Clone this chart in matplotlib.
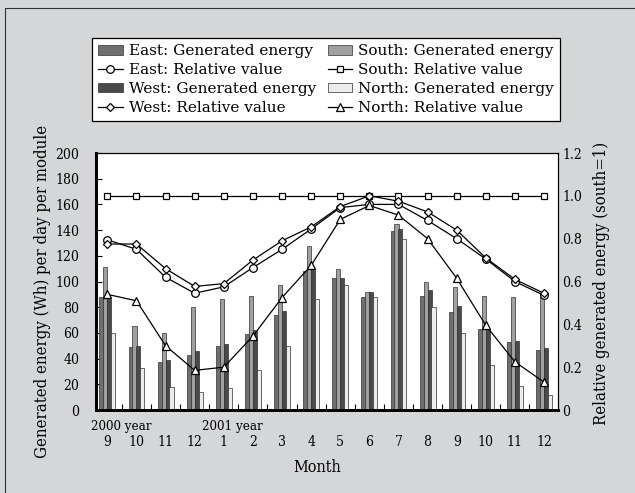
import numpy as np
import matplotlib
matplotlib.use("Agg")
import matplotlib.pyplot as plt
from matplotlib.patches import Rectangle

# months Sep 2000 .. Dec 2001
months = ["9", "10", "11", "12", "1", "2", "3", "4", "5", "6", "7", "8", "9", "10", "11", "12"]

# generated energy (Wh) per day per module
east_gen = [88, 49, 37, 43, 50, 59, 74, 108, 103, 88, 139.5, 89, 76, 63, 53, 47]
south_gen = [111, 65, 60, 80, 86, 89, 97, 127.5, 110, 92, 145, 100, 96, 89, 88, 88]
west_gen = [86, 50, 39, 46, 51, 62, 77, 109, 103, 92, 141, 93, 81, 63, 54, 48]
north_gen = [60, 33, 18, 14, 17, 31, 50, 86, 97, 88, 133, 80, 60, 35, 19, 12]

# relative value (south = 1)
east_rel = [0.795, 0.75, 0.62, 0.545, 0.575, 0.665, 0.75, 0.845, 0.945, 0.96, 0.96, 0.885, 0.80, 0.705, 0.60, 0.535]
south_rel = [1.0] * 16
west_rel = [0.775, 0.775, 0.66, 0.577, 0.59, 0.70, 0.79, 0.855, 0.95, 1.0, 0.975, 0.925, 0.84, 0.71, 0.61, 0.545]
north_rel = [0.54, 0.51, 0.30, 0.185, 0.20, 0.345, 0.525, 0.675, 0.89, 0.955, 0.91, 0.80, 0.615, 0.395, 0.225, 0.13]

plt.rcParams['font.family'] = 'DejaVu Serif'
plt.rcParams['font.stretch'] = 'condensed'
plt.rcParams['font.size'] = 10

W, H = 635, 493
bg = '#d5d6d8'
fig = plt.figure(figsize=(W / 100, H / 100), dpi=100, facecolor=bg)
fig.patches.append(Rectangle((5 / W, -0.1), 1.2, 1 - 8 / H + 0.1, transform=fig.transFigure,
                             fill=False, edgecolor='#333333', linewidth=0.8))

ax = fig.add_axes([96 / W, 1 - 410 / H, (558 - 96) / W, (410 - 153) / H])
ax2 = ax.twinx()

x = np.arange(len(months))
w = 0.14
step = 0.135
bar_colors = ['#6f6f6f', '#a0a0a0', '#4a4a4a', '#ececec']
gens = [east_gen, south_gen, west_gen, north_gen]
bars = []
for k, (g, c) in enumerate(zip(gens, bar_colors)):
    b = ax.bar(x + (k - 1.5) * step, g, w, color=c, edgecolor='#303030', linewidth=0.5, zorder=2)
    bars.append(b)

rels = [east_rel, south_rel, west_rel, north_rel]
marks = ['o', 's', 'D', '^']
msizes = [5.5, 5, 4.5, 5.5]
lines = []
for r, m, ms in zip(rels, marks, msizes):
    l, = ax2.plot(x, r, color='black', linewidth=0.9, marker=m, markersize=ms,
                  markerfacecolor='white', markeredgecolor='black', markeredgewidth=0.9, zorder=3)
    lines.append(l)

ax.set_xlim(-0.39, 15.48)
ax.set_ylim(0, 200)
ax.set_yticks(range(0, 201, 20))
ax2.set_ylim(0, 1.2)
ax2.set_yticks(np.arange(0, 1.21, 0.2))
ax2.set_yticklabels(['0'] + [f'{v:.1f}' for v in np.arange(0.2, 1.21, 0.2)])

ax.set_xticks(x)
ax.set_xticklabels(months)
ax.tick_params(axis='x', which='major', length=0, pad=18)
ax.set_xticks(x[:-1] + 0.5, minor=True)
ax.tick_params(axis='x', which='minor', direction='in', length=4, width=0.8)
ax.tick_params(axis='y', direction='in', length=4, width=0.8, pad=12)
ax2.tick_params(axis='y', length=0, pad=3)

for a in (ax, ax2):
    for s in a.spines.values():
        s.set_linewidth(0.8)
    a.spines['left'].set_linewidth(2)
    a.spines['bottom'].set_linewidth(2)

tr = ax.get_xaxis_transform()
ax.text(0.48, -0.065, '2000 year', transform=tr, ha='center', va='center', fontsize=9.5)
ax.text(4.31, -0.065, '2001 year', transform=tr, ha='center', va='center', fontsize=9.5)

fig.text(317 / W, 1 - 468 / H, 'Month', fontsize=11.5, ha='center', va='center')
fig.text(43 / W, 1 - 291 / H, 'Generated energy (Wh) per day per module', fontsize=12,
         rotation=90, ha='center', va='center')
fig.text(602 / W, 1 - 283 / H, 'Relative generated energy (south=1)', fontsize=12,
         rotation=90, ha='center', va='center')

handles = [bars[0], lines[0], bars[2], lines[2], bars[1], lines[1], bars[3], lines[3]]
labels = ['East: Generated energy', 'East: Relative value',
          'West: Generated energy', 'West: Relative value',
          'South: Generated energy', 'South: Relative value',
          'North: Generated energy', 'North: Relative value']
leg = fig.legend(handles, labels, ncol=2, loc='upper left',
                 bbox_to_anchor=(92 / W, 1 - 38 / H, (560 - 92) / W, 0),
                 mode='expand', borderaxespad=0, frameon=True, fancybox=False,
                 edgecolor='black', framealpha=1,
                 handlelength=1.6, handleheight=0.6, handletextpad=0.4, labelspacing=0.32,
                 borderpad=0.4, columnspacing=1.0,
                 prop={'family': 'DejaVu Serif', 'stretch': 'normal', 'size': 11})
leg.get_frame().set_linewidth(0.9)

fig.savefig('out.png', dpi=100, facecolor=bg)
